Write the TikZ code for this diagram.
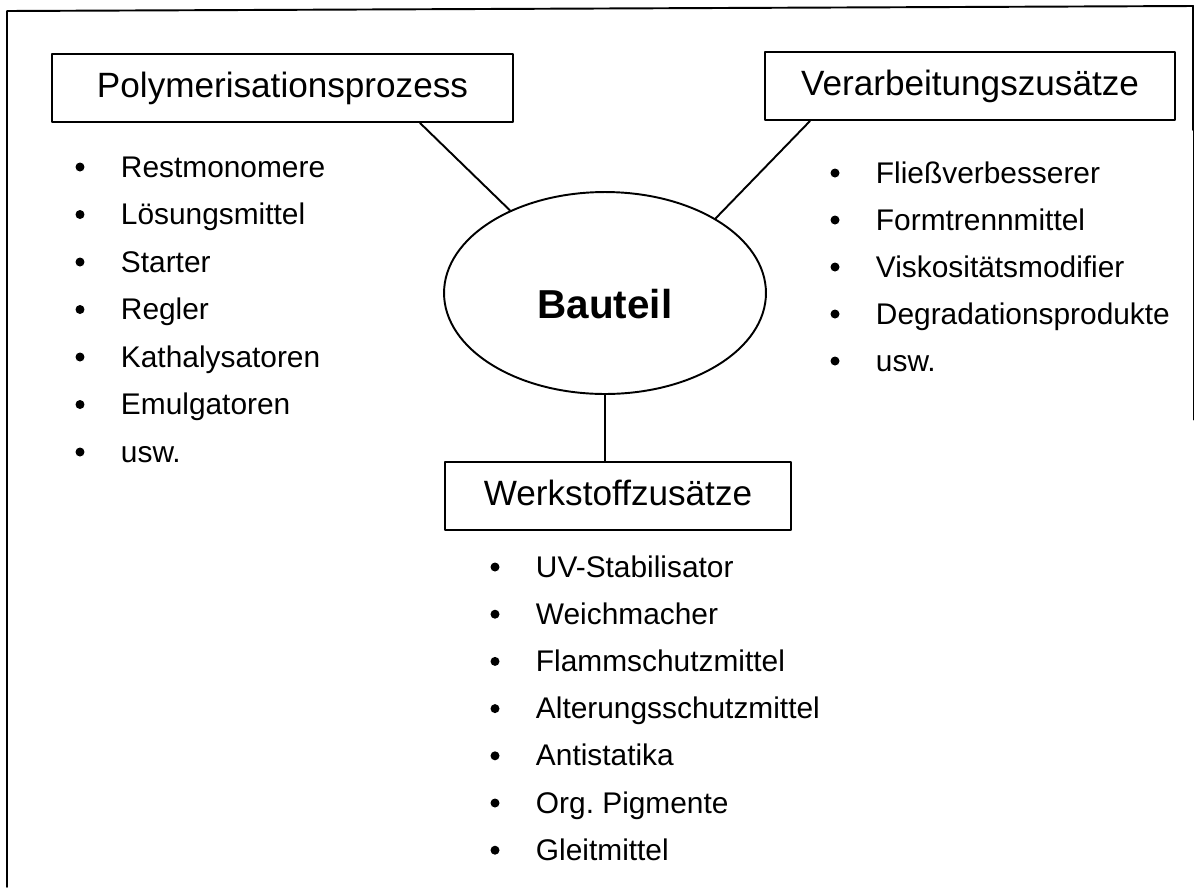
\documentclass[tikz,border=0pt]{standalone}
\usepackage{fontspec}
\setmainfont{Liberation Sans}
\frenchspacing
\usetikzlibrary{shapes.geometric}
\tikzset{
	kasten/.style={draw,minimum height=1.36cm,inner sep=0pt,text height=15pt,text depth=4pt,font=\fontsize{20}{24}\selectfont},
	eintrag/.style={anchor=base west,inner sep=0pt,font=\fontsize{17}{20}\selectfont},
	punkt/.style={circle,fill,draw=none,inner sep=0pt,minimum size=0.18cm}
}
\begin{document}
\begin{tikzpicture}[x=0.02cm,y=-0.02cm,line width=1.1pt,line cap=round,line join=round]
			\useasboundingbox (0,0) rectangle (1197,887);
			\draw (7,887)--(7,11)--(1193,6)--(1193,130);%Rahmen
			\draw[line width=0.5pt] (1193,130)--(1193,420);
			\node[kasten,minimum width=9.22cm] (poly) at (282.5,88) {Polymerisationsprozess};
			\node[kasten,minimum width=8.2cm] (verarb) at (970,86) {Verarbeitungszusätze};
			\node[kasten,minimum width=6.92cm] (werk) at (618,496) {Werkstoffzusätze};
			\node[ellipse,draw,minimum width=6.44cm,minimum height=4.04cm,inner sep=0pt,%
			text height=1cm,text depth=0pt,font=\bfseries\fontsize{23}{27}\selectfont] (bauteil) at (605,293) {Bauteil};
			\draw ([xshift=2.75cm]poly.south)--(bauteil.139);
			\draw ([xshift=-3.2cm]verarb.south)--(bauteil.34);
			\draw (bauteil.south)--(bauteil.south |- werk.north);
			\foreach \wort [count=\i] in {Restmonomere,Lösungsmittel,Starter,Regler,Kathalysatoren,Emulgatoren,usw.}{
					\node[punkt] (pp\i) at (80,{167+47.5*(\i-1)}) {};
					\node[eintrag] (pt\i) at (120,{177+47.5*(\i-1)}) {\wort};%links
				}
			\foreach \wort [count=\i] in {Fließverbesserer,Formtrennmittel,Viskositätsmodifier,Degradationsprodukte,usw.}{
					\node[punkt] (vp\i) at (835,{173+47*(\i-1)}) {};
					\node[eintrag] (vt\i) at (875,{183+47*(\i-1)}) {\wort};%rechts
				}
			\foreach \wort [count=\i] in {UV-Stabilisator,Weichmacher,Flammschutzmittel,Alterungsschutzmittel,Antistatika,Org. Pigmente,Gleitmittel}{
					\node[punkt] (wp\i) at (495,{567+47.2*(\i-1)}) {};
					\node[eintrag] (wt\i) at (535,{577+47.2*(\i-1)}) {\wort};%unten
				}
		\end{tikzpicture}
\end{document}
